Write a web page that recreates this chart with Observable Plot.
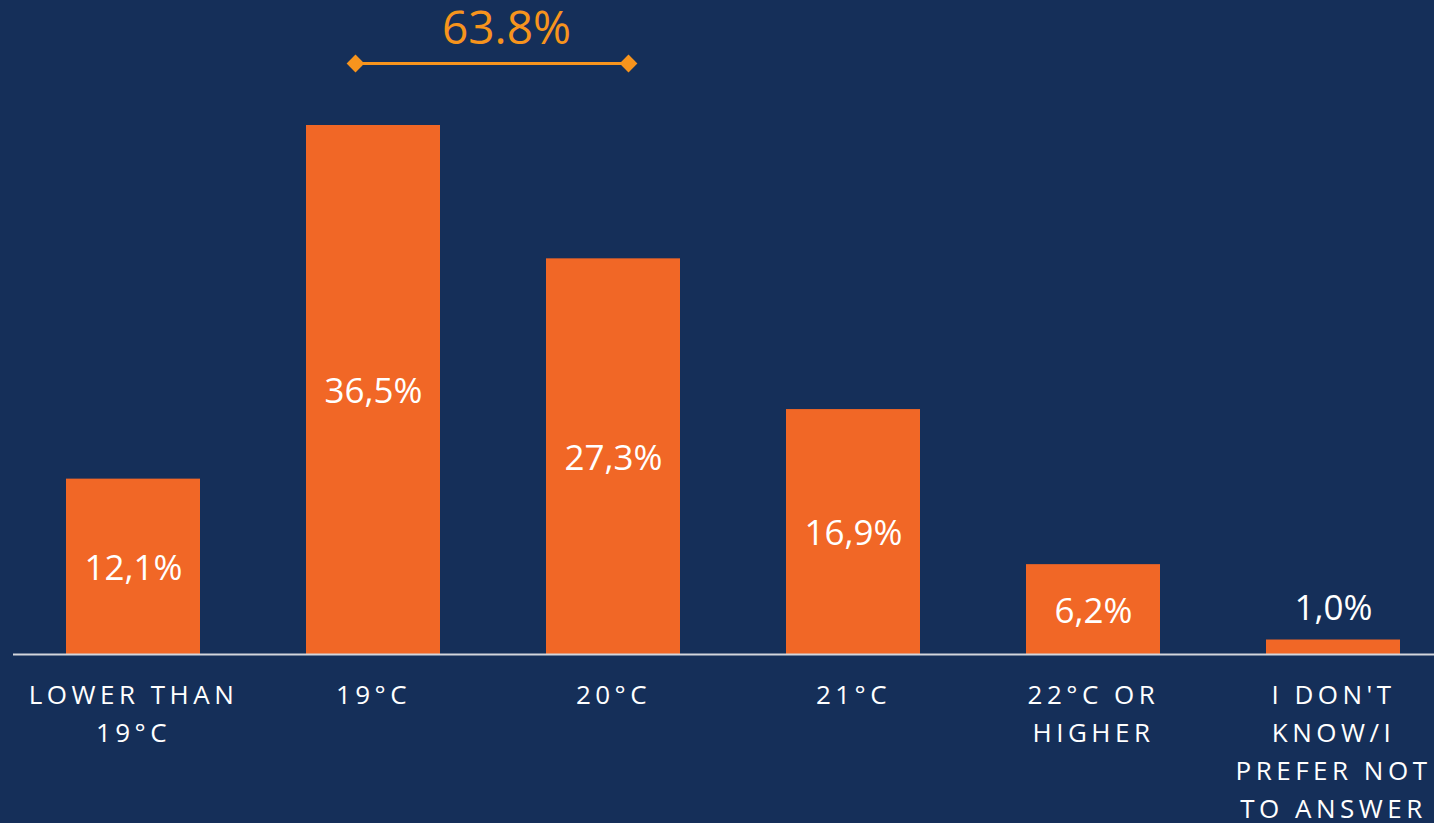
<!DOCTYPE html>
<html>
<head>
<meta charset="utf-8">
<script src="https://cdn.jsdelivr.net/npm/d3@7"></script>
<script src="https://cdn.jsdelivr.net/npm/@observablehq/plot@0.6"></script>
<style>
  html, body { margin: 0; padding: 0; background: #152f59; overflow: hidden; }
  #chart svg { display: block; }
  #chart [aria-label="x-axis tick label"] text { letter-spacing: 4.5px; }
</style>
</head>
<body>
<div id="chart"></div>
<script>
// Data
const categories = ["Lower than 19°C", "19°C", "20°C", "21°C", "22°C or higher", "I don't know/I prefer not to answer"];
const tickLabels = ["LOWER THAN\n19°C", "19°C", "20°C", "21°C", "22°C OR\nHIGHER", "I DON'T\nKNOW/I\nPREFER NOT\nTO ANSWER"];
const values = [12.1, 36.5, 27.3, 16.9, 6.2, 1.0];
const highlightRange = ["19°C", "20°C"];
const highlightLabel = "63.8%";

const data = categories.map((c, i) => ({category: c, value: values[i]}));
const highlight = [{from: highlightRange[0], to: highlightRange[1], label: highlightLabel, top: d3.max(values)}];
const fmt = v => v.toFixed(1).replace(".", ",") + "%";
const accent = "#f7941d";

const chart = Plot.plot({
  width: 1434,
  height: 823,
  marginTop: 125,
  marginBottom: 169,
  marginLeft: 13,
  marginRight: 0,
  style: {background: "#152f59", color: "white", fontFamily: "'Open Sans', sans-serif", overflow: "visible"},
  x: {domain: categories, range: [13, 1453], paddingInner: 0.4417, paddingOuter: 0.2208},
  y: {domain: [0, 36.5], axis: null},
  marks: [
    Plot.barY(data, {x: "category", y: "value", fill: "#f16726"}),
    Plot.ruleY([0], {stroke: "#d3d6dc", strokeWidth: 2}),
    Plot.text(data.filter(d => d.value >= 3), {
      x: "category", y: d => d.value / 2, text: d => fmt(d.value),
      fill: "white", fontSize: 35, dy: 2
    }),
    Plot.text(data.filter(d => d.value < 3), {
      x: "category", y: "value", text: d => fmt(d.value),
      fill: "white", fontSize: 35, lineAnchor: "bottom", dy: -20
    }),
    Plot.axisX({
      tickSize: 0, tickPadding: 23, fontSize: 26, lineHeight: 1.46,
      tickFormat: c => tickLabels[categories.indexOf(c)], color: "white", label: null
    }),
    Plot.ruleY(highlight, {
      x1: "from", x2: "to", y: "top", dy: -62,
      insetLeft: 49, insetRight: 52, stroke: accent, strokeWidth: 3
    }),
    Plot.dot(highlight, {x: "from", y: "top", dy: -62, dx: -18, symbol: "diamond2", r: 8, fill: accent}),
    Plot.dot(highlight, {x: "to", y: "top", dy: -62, dx: 15, symbol: "diamond2", r: 8, fill: accent}),
    Plot.text(highlight, {x: "from", y: "top", dy: -96, dx: 133, text: "label", fontSize: 46, fill: accent})
  ]
});
document.getElementById("chart").appendChild(chart);
</script>
</body>
</html>
